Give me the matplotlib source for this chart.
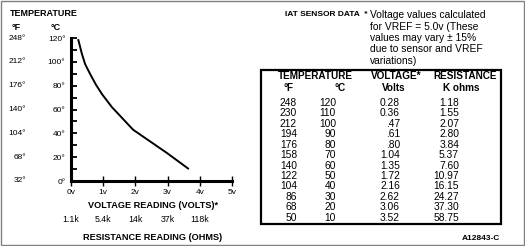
import matplotlib
matplotlib.use("Agg")
import matplotlib.pyplot as plt
from matplotlib.patches import Rectangle
from matplotlib.transforms import blended_transform_factory

plt.rcParams['font.family'] = ['Liberation Sans', 'DejaVu Sans']

# table data (IAT sensor)
temp_f = ['248', '230', '212', '194', '176', '158', '140', '122', '104', '86', '68', '50']
temp_c = ['120', '110', '100', '90', '80', '70', '60', '50', '40', '30', '20', '10']
volts_txt = ['0.28', '0.36', '.47', '.61', '.80', '1.04', '1.35', '1.72', '2.16', '2.62', '3.06', '3.52']
kohms_txt = ['1.18', '1.55', '2.07', '2.80', '3.84', '5.37', '7.60', '10.97', '16.15', '24.27', '37.30', '58.75']

# curve as drawn in the graph
curve_v = [0.22, 0.26, 0.34, 0.44, 0.59, 0.77, 0.96, 1.27, 1.93, 2.98, 3.66]
curve_c = [119, 115, 106.5, 98, 90, 81, 73, 62, 43, 23.5, 10]

# axis labels
yticks_c = [0, 20, 40, 60, 80, 100, 120]
yticks_f = ['32°', '68°', '104°', '140°', '176°', '212°', '248°']
xticks_v = [0, 1, 2, 3, 4, 5]
res_labels = ['1.1k', '5.4k', '14k', '37k', '118k']

W, H = 525, 246
fig = plt.figure(figsize=(W / 100, H / 100), dpi=100)

# background axes in pixel units for text / table box
bg = fig.add_axes([0, 0, 1, 1])
bg.set_xlim(0, W)
bg.set_ylim(H, 0)
bg.axis('off')
bg.add_patch(Rectangle((0.5, 0.5), W - 1.5, H - 1.5, fill=False, ec='#808080', lw=1))

# chart axes
ax = fig.add_axes([71 / W, (H - 181) / H, 161 / W, 143 / H])
ax.plot(curve_v, curve_c, color='black', lw=1.4, solid_capstyle='butt')
ax.set_xlim(0, 5)
ax.set_ylim(0, 120)
for s in ['top', 'right']:
    ax.spines[s].set_visible(False)
ax.spines['left'].set_linewidth(2.2)
ax.spines['bottom'].set_linewidth(2.2)
ax.set_yticks(yticks_c, [f'{c}°' for c in yticks_c])
ax.set_yticks(range(10, 121, 20), minor=True)
ax.tick_params(axis='y', which='both', direction='in', length=4, width=1.3, pad=4, labelsize=6)
ax.set_xticks(xticks_v, [f'{v}v' for v in xticks_v])
ax.tick_params(axis='x', direction='inout', length=7, width=1, pad=2, labelsize=6)
ax.patch.set_alpha(0)

ytr = ax.get_yaxis_transform()
for c, f in zip(yticks_c, yticks_f):
    ax.text(-0.28, c, f, transform=ytr, ha='right', va='center', fontsize=6)

bg.text(10, 14, 'TEMPERATURE', ha='left', va='center', fontsize=6.5, fontweight='bold')
bg.text(16, 27, '°F', ha='center', va='center', fontsize=6.5, fontweight='bold')
bg.text(56, 27, '°C', ha='center', va='center', fontsize=6.5, fontweight='bold')
bg.text(153, 205, 'VOLTAGE READING (VOLTS)*', ha='center', va='center', fontsize=6.6, fontweight='bold')
rtr = blended_transform_factory(ax.transData, bg.transData)
for i, r in enumerate(res_labels):
    bg.text(i, 220, r, transform=rtr, ha='center', va='center', fontsize=6.3)
bg.text(153, 237, 'RESISTANCE READING (OHMS)', ha='center', va='center', fontsize=6.6, fontweight='bold')

# note
bg.text(285, 15, 'IAT SENSOR DATA  *', ha='left', va='center', fontsize=6, fontweight='bold')
note = ['Voltage values calculated', 'for VREF = 5.0v (These', 'values may vary ± 15%',
        'due to sensor and VREF', 'variations)']
for i, line in enumerate(note):
    bg.text(370, 15 + i * 11.5, line, ha='left', va='center', fontsize=7.4)

# table
bg.add_patch(Rectangle((261, 70), 240, 154, fill=False, ec='black', lw=1.6))
hdr1 = [(315, 'TEMPERATURE'), (396, 'VOLTAGE*'), (465, 'RESISTANCE')]
hdr2 = [(289, '°F'), (340, '°C'), (394, 'Volts'), (461, 'K ohms')]
for x, t in hdr1:
    bg.text(x, 76, t, ha='center', va='center', fontsize=7.2, fontweight='bold')
for x, t in hdr2:
    bg.text(x, 88, t, ha='center', va='center', fontsize=7.2, fontweight='bold')
cols = [(297, temp_f), (336, temp_c), (400, volts_txt), (459, kohms_txt)]
for x, vals in cols:
    for i, v in enumerate(vals):
        bg.text(x, 103 + i * 10.43, v, ha='right', va='center', fontsize=7.4)

bg.text(500, 238, 'A12843-C', ha='right', va='center', fontsize=6, fontweight='bold')

fig.savefig('out.png', dpi=100)
